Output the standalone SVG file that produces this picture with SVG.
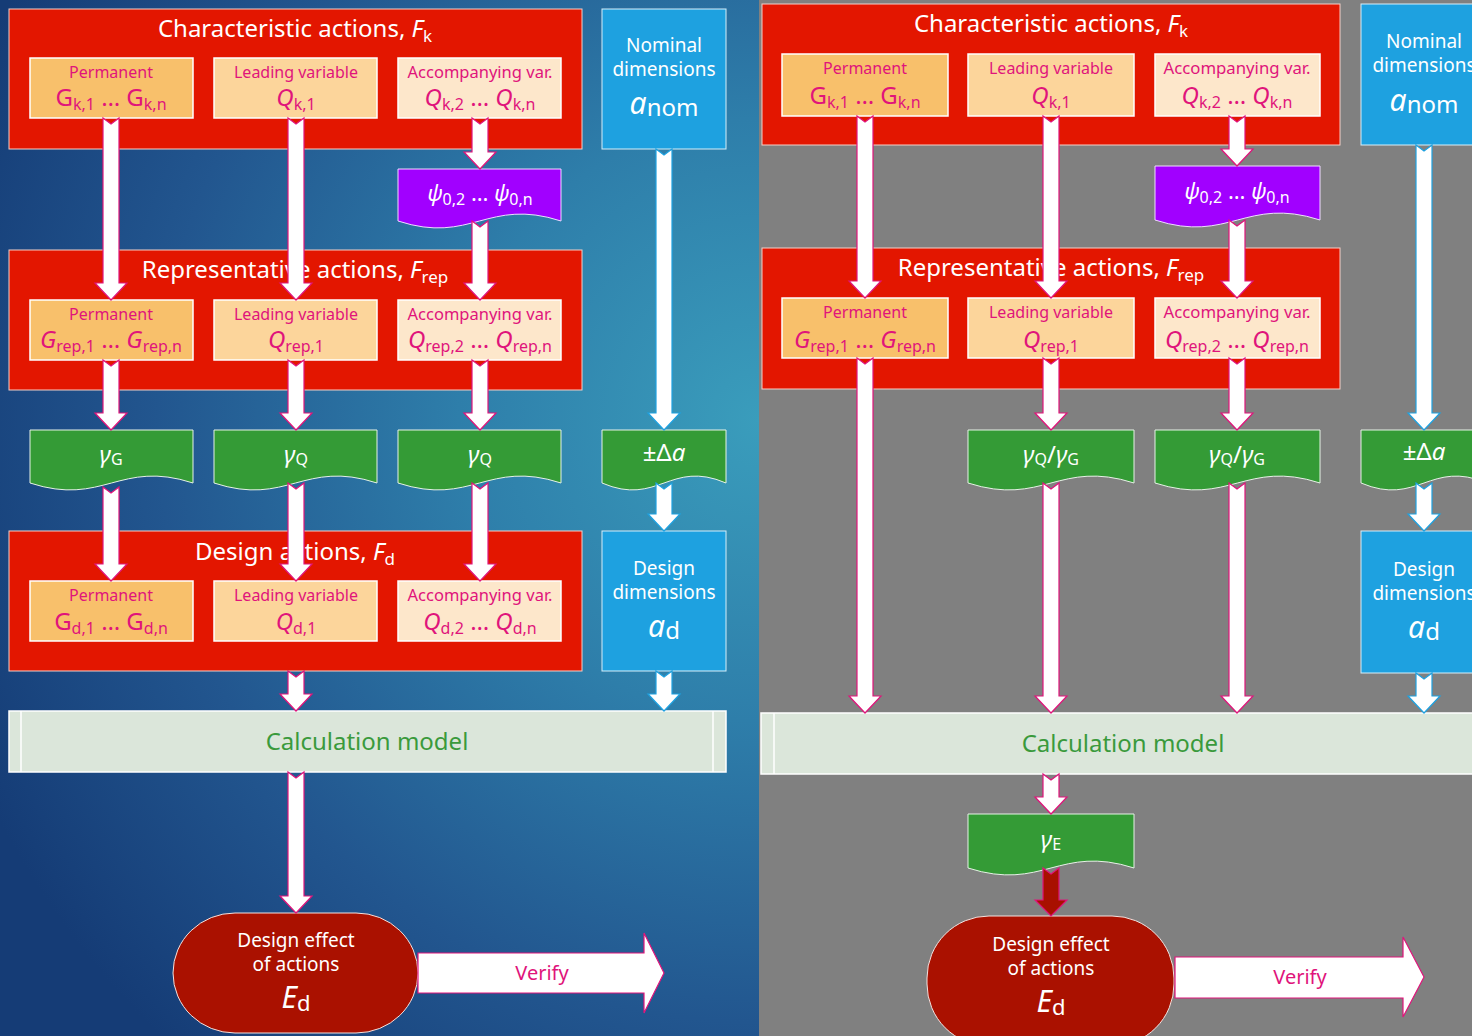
<svg xmlns="http://www.w3.org/2000/svg" width="1472" height="1036" viewBox="0 0 1472 1036">
  <defs>
    <radialGradient id="bgBlue" gradientUnits="userSpaceOnUse" cx="760" cy="420" r="860">
      <stop offset="0" stop-color="#3a9dbc"/>
      <stop offset="0.35" stop-color="#2e7eaa"/>
      <stop offset="0.7" stop-color="#22568f"/>
      <stop offset="1" stop-color="#153c76"/>
    </radialGradient>
    <style>
      text { font-family: "Noto Sans", "Open Sans", "DejaVu Sans", sans-serif; }
      .red { fill: #e31600; stroke: #f4cfc8; stroke-width: 1; }
      .perm { fill: #f8c06b; stroke: #ffffff; stroke-width: 1.5; }
      .lead { fill: #fcd59b; stroke: #ffffff; stroke-width: 1.5; }
      .acc { fill: #fde7cb; stroke: #ffffff; stroke-width: 1.5; }
      .blue { fill: #1ea1e0; stroke: #d6eef9; stroke-width: 1; }
      .green { fill: #349b36; stroke: #e6f2e6; stroke-width: 1; }
      .purple { fill: #a100ff; stroke: #efdcff; stroke-width: 1; }
      .calc { fill: #dbe6da; stroke: #ffffff; stroke-width: 1.5; }
      .calc-line { stroke: #ffffff; stroke-width: 1.5; }
      .stadium { fill: #aa1100; stroke: #f3e3e0; stroke-width: 1; }
      .arrow { fill: #ffffff; stroke: #e0147b; stroke-width: 1.2; }
      .arrow-blue { fill: #ffffff; stroke: #1ea1e0; stroke-width: 1.2; }
      .arrow-dark { fill: #a81000; stroke: #e0147b; stroke-width: 1.2; }
      .title { fill: #ffffff; font-size: 24px; text-anchor: middle; }
      .label { fill: #e0147b; font-size: 16px; text-anchor: middle; }
      .sym { fill: #e0147b; font-size: 24px; text-anchor: middle; }
      .wsym { fill: #ffffff; font-size: 24px; text-anchor: middle; }
      .wlabel { fill: #ffffff; font-size: 19px; text-anchor: middle; }
      .calc-text { fill: #3a9a3c; font-size: 24px; text-anchor: middle; }
      .verify { fill: #e0147b; font-size: 20px; text-anchor: middle; }
      .it { font-style: italic; }
      .sub { font-size: 16px; }
      .tsub { font-size: 17px; }
      .big { font-size: 30px; }
      .bsub { font-size: 22px; }
    </style>
  </defs>

  <!-- backgrounds of the two panels -->
  <rect x="0" y="0" width="759" height="1036" fill="url(#bgBlue)"/>
  <rect x="759" y="0" width="713" height="1036" fill="#808080"/>

  <!-- ===================== left panel ===================== -->
  <g id="L-char">
    <rect class="red" x="9" y="9" width="573" height="140"/>
    <text class="title" x="295" y="37">Characteristic actions, <tspan class="it">F</tspan><tspan class="tsub" dy="5">k</tspan></text>
  </g>
  <g id="L-char-perm">
    <rect class="perm" x="30" y="58" width="163" height="60"/>
    <text class="label" x="111" y="78">Permanent</text>
    <text class="sym" x="111" y="106">G<tspan class="sub" dy="4">k,1</tspan><tspan dy="-4"> … G</tspan><tspan class="sub" dy="4">k,n</tspan></text>
  </g>
  <g id="L-char-lead">
    <rect class="lead" x="214" y="58" width="163" height="60"/>
    <text class="label" x="296" y="78">Leading variable</text>
    <text class="sym" x="296" y="106"><tspan class="it">Q</tspan><tspan class="sub" dy="4">k,1</tspan></text>
  </g>
  <g id="L-char-acc">
    <rect class="acc" x="398" y="58" width="163" height="60"/>
    <text class="label" x="480" y="78" textLength="145" lengthAdjust="spacingAndGlyphs">Accompanying var.</text>
    <text class="sym" x="480" y="106"><tspan class="it">Q</tspan><tspan class="sub" dy="4">k,2</tspan><tspan dy="-4"> … </tspan><tspan class="it">Q</tspan><tspan class="sub" dy="4">k,n</tspan></text>
  </g>
  <g id="L-nominal">
    <rect class="blue" x="602" y="9" width="124" height="140"/>
    <text class="wlabel" x="664" y="52">Nominal</text>
    <text class="wlabel" x="664" y="76">dimensions</text>
    <text class="wsym" x="664" y="114"><tspan class="it big">a</tspan><tspan dy="2">nom</tspan></text>
  </g>
  <g id="L-psi">
    <path class="purple" d="M398,169 H561 V221 C487.6,197 471.4,245 398,221 Z"/>
    <text class="wsym" x="480" y="201" style="font-size:22px"><tspan class="it">ψ</tspan><tspan class="sub" dy="4">0,2</tspan><tspan dy="-4"> … </tspan><tspan class="it">ψ</tspan><tspan class="sub" dy="4">0,n</tspan></text>
  </g>

  <g id="L-rep">
    <rect class="red" x="9" y="250" width="573" height="140"/>
    <text class="title" x="295" y="278">Representative actions, <tspan class="it">F</tspan><tspan class="tsub" dy="5">rep</tspan></text>
  </g>
  <g id="L-rep-perm">
    <rect class="perm" x="30" y="300" width="163" height="60"/>
    <text class="label" x="111" y="320">Permanent</text>
    <text class="sym" x="111" y="348"><tspan class="it">G</tspan><tspan class="sub" dy="4">rep,1</tspan><tspan dy="-4"> … </tspan><tspan class="it">G</tspan><tspan class="sub" dy="4">rep,n</tspan></text>
  </g>
  <g id="L-rep-lead">
    <rect class="lead" x="214" y="300" width="163" height="60"/>
    <text class="label" x="296" y="320">Leading variable</text>
    <text class="sym" x="296" y="348"><tspan class="it">Q</tspan><tspan class="sub" dy="4">rep,1</tspan></text>
  </g>
  <g id="L-rep-acc">
    <rect class="acc" x="398" y="300" width="163" height="60"/>
    <text class="label" x="480" y="320" textLength="145" lengthAdjust="spacingAndGlyphs">Accompanying var.</text>
    <text class="sym" x="480" y="348"><tspan class="it">Q</tspan><tspan class="sub" dy="4">rep,2</tspan><tspan dy="-4"> … </tspan><tspan class="it">Q</tspan><tspan class="sub" dy="4">rep,n</tspan></text>
  </g>

  <g id="L-gammaG">
    <path class="green" d="M30,430 H193 V483 C119.6,459 103.4,507 30,483 Z"/>
    <text class="wsym" x="111" y="463"><tspan class="it">γ</tspan><tspan class="sub" dy="2">G</tspan></text>
  </g>
  <g id="L-gammaQ1">
    <path class="green" d="M214,430 H377 V483 C303.6,459 287.4,507 214,483 Z"/>
    <text class="wsym" x="296" y="463"><tspan class="it">γ</tspan><tspan class="sub" dy="2">Q</tspan></text>
  </g>
  <g id="L-gammaQ2">
    <path class="green" d="M398,430 H561 V483 C487.6,459 471.4,507 398,483 Z"/>
    <text class="wsym" x="480" y="463"><tspan class="it">γ</tspan><tspan class="sub" dy="2">Q</tspan></text>
  </g>
  <g id="L-delta">
    <path class="green" d="M602,430 H726 V483 C670.2,459 657.8,507 602,483 Z"/>
    <text class="wsym" x="664" y="461">±Δ<tspan class="it">a</tspan></text>
  </g>

  <g id="L-design">
    <rect class="red" x="9" y="531" width="573" height="140"/>
    <text class="title" x="295" y="560">Design actions, <tspan class="it">F</tspan><tspan class="tsub" dy="5">d</tspan></text>
  </g>
  <g id="L-design-perm">
    <rect class="perm" x="30" y="581" width="163" height="60"/>
    <text class="label" x="111" y="601">Permanent</text>
    <text class="sym" x="111" y="630">G<tspan class="sub" dy="4">d,1</tspan><tspan dy="-4"> … G</tspan><tspan class="sub" dy="4">d,n</tspan></text>
  </g>
  <g id="L-design-lead">
    <rect class="lead" x="214" y="581" width="163" height="60"/>
    <text class="label" x="296" y="601">Leading variable</text>
    <text class="sym" x="296" y="630"><tspan class="it">Q</tspan><tspan class="sub" dy="4">d,1</tspan></text>
  </g>
  <g id="L-design-acc">
    <rect class="acc" x="398" y="581" width="163" height="60"/>
    <text class="label" x="480" y="601" textLength="145" lengthAdjust="spacingAndGlyphs">Accompanying var.</text>
    <text class="sym" x="480" y="630"><tspan class="it">Q</tspan><tspan class="sub" dy="4">d,2</tspan><tspan dy="-4"> … </tspan><tspan class="it">Q</tspan><tspan class="sub" dy="4">d,n</tspan></text>
  </g>
  <g id="L-design-dim">
    <rect class="blue" x="602" y="531" width="124" height="140"/>
    <text class="wlabel" x="664" y="575">Design</text>
    <text class="wlabel" x="664" y="599">dimensions</text>
    <text class="wsym" x="664" y="637"><tspan class="it big">a</tspan><tspan dy="2">d</tspan></text>
  </g>

  <g id="L-calc">
    <rect class="calc" x="9" y="711" width="717" height="61"/>
    <line class="calc-line" x1="21" y1="711" x2="21" y2="772"/>
    <line class="calc-line" x1="713" y1="711" x2="713" y2="772"/>
    <text class="calc-text" x="367" y="750">Calculation model</text>
  </g>

  <g id="L-effect">
    <rect class="stadium" x="173" y="913" width="245" height="120" rx="62" ry="60"/>
    <text class="wlabel" x="296" y="947">Design effect</text>
    <text class="wlabel" x="296" y="971">of actions</text>
    <text class="wsym" x="296" y="1008"><tspan class="it big">E</tspan><tspan class="bsub" dy="3">d</tspan></text>
  </g>

  <!-- ===================== right panel ===================== -->
  <g id="R-char">
    <rect class="red" x="762" y="4" width="578" height="141"/>
    <text class="title" x="1051" y="32">Characteristic actions, <tspan class="it">F</tspan><tspan class="tsub" dy="5">k</tspan></text>
  </g>
  <g id="R-char-perm">
    <rect class="perm" x="782" y="54" width="166" height="62"/>
    <text class="label" x="865" y="74">Permanent</text>
    <text class="sym" x="865" y="104">G<tspan class="sub" dy="4">k,1</tspan><tspan dy="-4"> … G</tspan><tspan class="sub" dy="4">k,n</tspan></text>
  </g>
  <g id="R-char-lead">
    <rect class="lead" x="968" y="54" width="166" height="62"/>
    <text class="label" x="1051" y="74">Leading variable</text>
    <text class="sym" x="1051" y="104"><tspan class="it">Q</tspan><tspan class="sub" dy="4">k,1</tspan></text>
  </g>
  <g id="R-char-acc">
    <rect class="acc" x="1155" y="54" width="165" height="62"/>
    <text class="label" x="1237" y="74" textLength="147" lengthAdjust="spacingAndGlyphs">Accompanying var.</text>
    <text class="sym" x="1237" y="104"><tspan class="it">Q</tspan><tspan class="sub" dy="4">k,2</tspan><tspan dy="-4"> … </tspan><tspan class="it">Q</tspan><tspan class="sub" dy="4">k,n</tspan></text>
  </g>
  <g id="R-nominal">
    <rect class="blue" x="1361" y="4" width="126" height="141"/>
    <text class="wlabel" x="1424" y="48">Nominal</text>
    <text class="wlabel" x="1424" y="72">dimensions</text>
    <text class="wsym" x="1424" y="111"><tspan class="it big">a</tspan><tspan dy="2">nom</tspan></text>
  </g>
  <g id="R-psi">
    <path class="purple" d="M1155,166 H1320 V220 C1245.8,196 1229.3,244 1155,220 Z"/>
    <text class="wsym" x="1237" y="199" style="font-size:22px"><tspan class="it">ψ</tspan><tspan class="sub" dy="4">0,2</tspan><tspan dy="-4"> … </tspan><tspan class="it">ψ</tspan><tspan class="sub" dy="4">0,n</tspan></text>
  </g>

  <g id="R-rep">
    <rect class="red" x="762" y="248" width="578" height="141"/>
    <text class="title" x="1051" y="276">Representative actions, <tspan class="it">F</tspan><tspan class="tsub" dy="5">rep</tspan></text>
  </g>
  <g id="R-rep-perm">
    <rect class="perm" x="782" y="298" width="166" height="60"/>
    <text class="label" x="865" y="318">Permanent</text>
    <text class="sym" x="865" y="348"><tspan class="it">G</tspan><tspan class="sub" dy="4">rep,1</tspan><tspan dy="-4"> … </tspan><tspan class="it">G</tspan><tspan class="sub" dy="4">rep,n</tspan></text>
  </g>
  <g id="R-rep-lead">
    <rect class="lead" x="968" y="298" width="166" height="60"/>
    <text class="label" x="1051" y="318">Leading variable</text>
    <text class="sym" x="1051" y="348"><tspan class="it">Q</tspan><tspan class="sub" dy="4">rep,1</tspan></text>
  </g>
  <g id="R-rep-acc">
    <rect class="acc" x="1155" y="298" width="165" height="60"/>
    <text class="label" x="1237" y="318" textLength="147" lengthAdjust="spacingAndGlyphs">Accompanying var.</text>
    <text class="sym" x="1237" y="348"><tspan class="it">Q</tspan><tspan class="sub" dy="4">rep,2</tspan><tspan dy="-4"> … </tspan><tspan class="it">Q</tspan><tspan class="sub" dy="4">rep,n</tspan></text>
  </g>

  <g id="R-gamma1">
    <path class="green" d="M968,430 H1134 V483 C1059.3,459 1042.7,507 968,483 Z"/>
    <text class="wsym" x="1051" y="463"><tspan class="it">γ</tspan><tspan class="sub" dy="2">Q</tspan><tspan dy="-2">/</tspan><tspan class="it">γ</tspan><tspan class="sub" dy="2">G</tspan></text>
  </g>
  <g id="R-gamma2">
    <path class="green" d="M1155,430 H1320 V483 C1245.8,459 1229.3,507 1155,483 Z"/>
    <text class="wsym" x="1237" y="463"><tspan class="it">γ</tspan><tspan class="sub" dy="2">Q</tspan><tspan dy="-2">/</tspan><tspan class="it">γ</tspan><tspan class="sub" dy="2">G</tspan></text>
  </g>
  <g id="R-delta">
    <path class="green" d="M1361,430 H1487 V483 C1430.3,459 1417.7,507 1361,483 Z"/>
    <text class="wsym" x="1424" y="460">±Δ<tspan class="it">a</tspan></text>
  </g>
  <g id="R-design-dim">
    <rect class="blue" x="1361" y="531" width="126" height="142"/>
    <text class="wlabel" x="1424" y="576">Design</text>
    <text class="wlabel" x="1424" y="600">dimensions</text>
    <text class="wsym" x="1424" y="638"><tspan class="it big">a</tspan><tspan dy="2">d</tspan></text>
  </g>

  <g id="R-calc">
    <rect class="calc" x="761" y="713" width="730" height="61"/>
    <line class="calc-line" x1="774" y1="713" x2="774" y2="774"/>
    <text class="calc-text" x="1123" y="752">Calculation model</text>
  </g>
  <g id="R-gammaE">
    <path class="green" d="M968,814 H1134 V868 C1059.3,844 1042.7,892 968,868 Z"/>
    <text class="wsym" x="1051" y="848"><tspan class="it">γ</tspan><tspan class="sub" dy="2">E</tspan></text>
  </g>
  <g id="R-effect">
    <rect class="stadium" x="927" y="916" width="247" height="130" rx="62" ry="62"/>
    <text class="wlabel" x="1051" y="951">Design effect</text>
    <text class="wlabel" x="1051" y="975">of actions</text>
    <text class="wsym" x="1051" y="1012"><tspan class="it big">E</tspan><tspan class="bsub" dy="3">d</tspan></text>
  </g>

  <!-- ===================== connectors ===================== -->
  <g id="connectors">
    <!-- left panel -->
    <path class="arrow" d="M103,118 L111,124 L119,118 V283 H127 L111,300 L95,283 H103 Z"/>
    <path class="arrow" d="M288,118 L296,124 L304,118 V283 H312 L296,300 L280,283 H288 Z"/>
    <path class="arrow" d="M472,118 L480,124 L488,118 V152 H496 L480,169 L464,152 H472 Z"/>
    <path class="arrow" d="M472,221 L480,227 L488,221 V283 H496 L480,300 L464,283 H472 Z"/>
    <path class="arrow" d="M103,360 L111,366 L119,360 V413 H127 L111,430 L95,413 H103 Z"/>
    <path class="arrow" d="M288,360 L296,366 L304,360 V413 H312 L296,430 L280,413 H288 Z"/>
    <path class="arrow" d="M472,360 L480,366 L488,360 V413 H496 L480,430 L464,413 H472 Z"/>
    <path class="arrow-blue" d="M656,149 L664,155 L672,149 V413 H680 L664,430 L648,413 H656 Z"/>
    <path class="arrow" d="M103,487 L111,493 L119,487 V564 H127 L111,581 L95,564 H103 Z"/>
    <path class="arrow" d="M288,483 L296,489 L304,483 V564 H312 L296,581 L280,564 H288 Z"/>
    <path class="arrow" d="M472,483 L480,489 L488,483 V564 H496 L480,581 L464,564 H472 Z"/>
    <path class="arrow-blue" d="M656,483 L664,489 L672,483 V514 H680 L664,531 L648,514 H656 Z"/>
    <path class="arrow" d="M288,671 L296,677 L304,671 V694 H312 L296,711 L280,694 H288 Z"/>
    <path class="arrow-blue" d="M656,671 L664,677 L672,671 V694 H680 L664,711 L648,694 H656 Z"/>
    <path class="arrow" d="M288,772 L296,778 L304,772 V896 H312 L296,913 L280,896 H288 Z"/>
    <path class="arrow" d="M418,953 H644 V933 L664,973 L644,1013 V993 H418 Z"/>
    <text class="verify" x="542" y="980">Verify</text>

    <!-- right panel -->
    <path class="arrow" d="M857,116 L865,122 L873,116 V281 H881 L865,298 L849,281 H857 Z"/>
    <path class="arrow" d="M857,358 L865,364 L873,358 V696 H881 L865,713 L849,696 H857 Z"/>
    <path class="arrow" d="M1043,116 L1051,122 L1059,116 V281 H1067 L1051,298 L1035,281 H1043 Z"/>
    <path class="arrow" d="M1043,358 L1051,364 L1059,358 V413 H1067 L1051,430 L1035,413 H1043 Z"/>
    <path class="arrow" d="M1043,483 L1051,489 L1059,483 V696 H1067 L1051,713 L1035,696 H1043 Z"/>
    <path class="arrow" d="M1043,774 L1051,780 L1059,774 V797 H1067 L1051,814 L1035,797 H1043 Z"/>
    <path class="arrow" d="M1229,116 L1237,122 L1245,116 V149 H1253 L1237,166 L1221,149 H1229 Z"/>
    <path class="arrow" d="M1229,220 L1237,226 L1245,220 V281 H1253 L1237,298 L1221,281 H1229 Z"/>
    <path class="arrow" d="M1229,358 L1237,364 L1245,358 V413 H1253 L1237,430 L1221,413 H1229 Z"/>
    <path class="arrow" d="M1229,483 L1237,489 L1245,483 V696 H1253 L1237,713 L1221,696 H1229 Z"/>
    <path class="arrow-blue" d="M1416,145 L1424,151 L1432,145 V413 H1440 L1424,430 L1408,413 H1416 Z"/>
    <path class="arrow-blue" d="M1416,483 L1424,489 L1432,483 V514 H1440 L1424,531 L1408,514 H1416 Z"/>
    <path class="arrow-blue" d="M1416,673 L1424,679 L1432,673 V696 H1440 L1424,713 L1408,696 H1416 Z"/>
    <path class="arrow-dark" d="M1043,868 L1051,874 L1059,868 V900 H1067 L1051,916 L1035,900 H1043 Z"/>
    <path class="arrow" d="M1175,957 H1403 V937 L1424,977 L1403,1017 V998 H1175 Z"/>
    <text class="verify" x="1300" y="984">Verify</text>
  </g>
</svg>
